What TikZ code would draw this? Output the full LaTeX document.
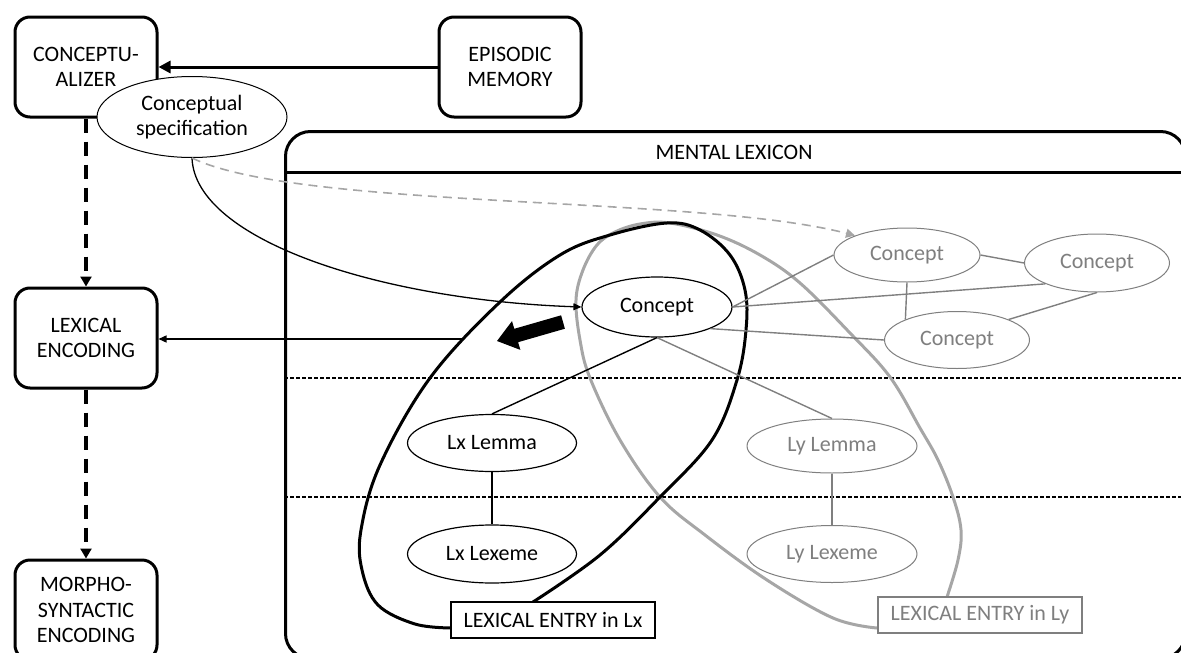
\documentclass[tikz,border=0pt]{standalone}
\usepackage{fontspec}
\setmainfont{Carlito}
\usetikzlibrary{shapes.geometric,arrows.meta}
\definecolor{txtgray}{HTML}{7F7F7F}
\definecolor{loopgray}{HTML}{A6A6A6}
\begin{document}
\begin{tikzpicture}[x=1pt,y=-1pt,
  every node/.style={font=\fontsize{22}{25.5}\selectfont},
  stage/.style={draw, line width=3pt, rounded corners=15pt, fill=white,
    minimum width=142pt, minimum height=100pt, align=center, inner sep=0pt},
  blackell/.style={ellipse, draw, line width=1.2pt, fill=white, inner sep=0pt},
  grayell/.style={ellipse, draw=txtgray, text=txtgray, line width=1pt, fill=white, inner sep=0pt},
  entrybox/.style={draw, fill=white, line width=1.2pt, minimum width=204pt, minimum height=36pt, inner sep=0pt},
  blink/.style={line width=1.4pt},
  glink/.style={line width=1.4pt, draw=txtgray},
  flow/.style={line width=4pt, dash pattern=on 14pt off 9pt, -{Triangle[length=10pt,width=11pt]}},
  thinarrow/.style={line width=1.3pt, -{Triangle[length=8pt,width=7pt]}},
  layer/.style={line width=1.3pt, dash pattern=on 4pt off 2pt},
]
\useasboundingbox (0,0) rectangle (1181,653);

% mental lexicon frame and its header
\node[draw, line width=3pt, rounded corners=25pt, minimum width=900pt, minimum height=527pt,
      anchor=north west, inner sep=0pt] (lex) at (284,130) {};
\draw[line width=3pt] (284,172) -- (1184,172);
\node (lextitle) at (734,152) {MENTAL LEXICON};

% layer separators
\draw[layer] (284,378) -- (1184,378);
\draw[layer] (284,497) -- (1184,497);

% lexical entry of language y (grey loop)
\draw[loopgray, line width=3pt] plot[smooth, tension=0.6] coordinates {
  (947,597) (958,560) (961,530) (953,497) (938,460) (920,428) (890,377) (850,333)
  (800,283) (760,255) (717,235) (670,223) (640,224) (615,232) (597,245) (583,270)
  (576,300) (580,340) (590,378) (620,440) (660,497) (705,535) (767,580) (833,618) (877,628)};

% lexical entry of language x (black loop)
\draw[line width=3pt] plot[smooth, tension=0.6] coordinates {
  (451,628) (415,624) (378,605) (362,570) (361,530) (380,465) (430,378) (500,302)
  (560,255) (610,235) (667,223) (700,230) (730,255) (745,290) (746,330) (737,380)
  (712,440) (660,497) (600,555) (533,602)};

% concepts and word forms
\node[blackell, minimum width=150pt, minimum height=60pt] (concept) at (657,307) {Concept};
\node[grayell, minimum width=146pt, minimum height=54pt] (c1) at (907,255) {Concept};
\node[grayell, minimum width=145pt, minimum height=58pt] (c2) at (1097,263) {Concept};
\node[grayell, minimum width=145pt, minimum height=57pt] (c3) at (957,340) {Concept};
\node[blackell, minimum width=169pt, minimum height=57pt] (lxlemma) at (492,443) {Lx Lemma};
\node[blackell, minimum width=169pt, minimum height=58pt] (lxlexeme) at (492,554) {Lx Lexeme};
\node[grayell, minimum width=170pt, minimum height=54pt] (lylemma) at (832,446) {Ly Lemma};
\node[grayell, minimum width=170pt, minimum height=57pt] (lylexeme) at (832,554) {Ly Lexeme};

% links inside the lexicon
\draw[glink] (concept.east) -- (c1.west);
\draw[glink] (concept.east) -- (c2.south west);
\draw[glink] (concept.south east) -- (c3.west);
\draw[glink] (c1.east) -- (c2.west);
\draw[glink] (c1.south) -- (c3.north west);
\draw[glink] (c2.south) -- (c3.north east);
\draw[glink] (concept.south) -- (lylemma.north);
\draw[glink] (lylemma.south) -- (lylexeme.north);
\draw[blink] (concept.south) -- (lxlemma.north);
\draw[blink] (lxlemma.south) -- (lxlexeme.north);

% entry labels
\node[entrybox] (entryx) at (553,620) {LEXICAL ENTRY in Lx};
\node[entrybox, draw=txtgray, text=txtgray] (entryy) at (980,615) {LEXICAL ENTRY in Ly};

% selection arrow pointing to the Lx entry
\coordinate (ta) at (564.9,328.7);
\coordinate (tb) at (561.1,315.3);
\coordinate (ba) at (518.1,342.2);
\coordinate (bb) at (514.3,328.8);
\coordinate (wa) at (520.4,349.9);
\coordinate (wb) at (512.0,321.1);
\coordinate (tip) at (497,341);
\fill (ta) -- (ba) -- (wa) -- (tip) -- (wb) -- (bb) -- (tb) -- cycle;

% processing stages
\node[stage] (concz) at (86,67) {CONCEPTU-\\ALIZER};
\node[stage] (episodic) at (510,67) {EPISODIC\\MEMORY};
\node[stage] (lexenc) at (86,338) {LEXICAL\\ENCODING};
\node[stage] (morpho) at (86,610) {MORPHO-\\SYNTACTIC\\ENCODING};
\node[ellipse, draw, line width=1pt, fill=white, inner sep=0pt, align=center,
      minimum width=190pt, minimum height=81pt] (cs) at (192,117) {Conceptual\\specification};

% stage connections
\draw[line width=3pt, -{Triangle[length=12pt,width=12pt]}] (episodic.west) -- (concz.east);
\draw[flow] (concz.south) -- (lexenc.north);
\draw[flow] (lexenc.south) -- (morpho.north);
\coordinate (lexout) at (464,339);
\draw[thinarrow] (lexout) -- (lexenc.east |- lexout);

% conceptual specification to the lexicon
\draw[thinarrow] (cs.south) .. controls (195,240) and (380,300) .. (concept.west);
\draw[loopgray, line width=1.6pt, dash pattern=on 9pt off 6pt,
      -{Triangle[length=9pt,width=9pt]}] (cs.south) .. controls (300,210) and (700,195) .. (c1.north west);
\end{tikzpicture}
\end{document}
